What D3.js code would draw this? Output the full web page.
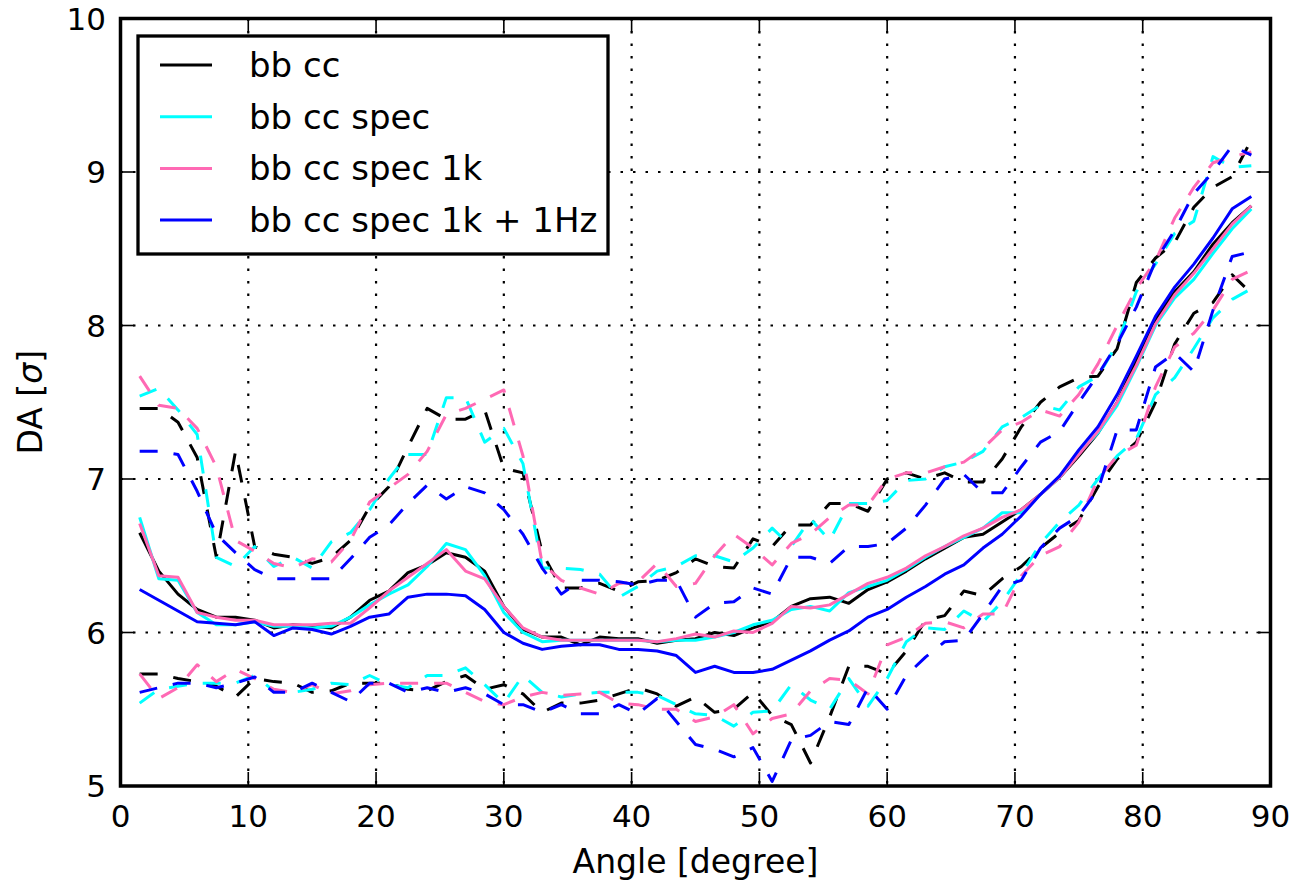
<!DOCTYPE html>
<html>
<head>
<meta charset="utf-8">
<script src="https://cdn.jsdelivr.net/npm/d3@7"></script>
<style>
body { margin: 0; background: #fff; }
text { font-family: "DejaVu Sans", sans-serif; fill: #000; }
</style>
</head>
<body>
<script>
// angles [degree]
var angles = [1.5,3,4.5,6,7.5,9,10.5,12,13.5,15,16.5,18,19.5,21,22.5,24,25.5,27,28.5,30,
    31.5,33,34.5,36,37.5,39,40.5,42,43.5,45,46.5,48,49.5,51,52.5,54,55.5,57,58.5,60,
    61.5,63,64.5,66,67.5,69,70.5,72,73.5,75,76.5,78,79.5,81,82.5,84,85.5,87,88.5];

// bb cc
var bbMean = [6.65,6.40,6.25,6.15,6.10,6.10,6.08,6.03,6.05,6.04, 6.03,6.10,6.21,6.27,6.39,6.44,6.52,6.49,6.40,6.17,
    6.02,5.97,5.97,5.92,5.97,5.96,5.96,5.93,5.95,5.96, 6.00,5.98,6.03,6.07,6.17,6.22,6.23,6.19,6.28,6.33,
    6.40,6.48,6.55,6.62,6.64,6.72,6.80,6.90,7.01,7.15, 7.30,7.50,7.77,8.04,8.22,8.35,8.53,8.67,8.78];
var bbUpper = [7.46,7.46,7.37,7.14,6.49,7.18,6.56,6.51,6.49,6.45, 6.49,6.60,6.82,6.95,7.21,7.46,7.39,7.39,7.45,7.07,
    7.04,6.52,6.29,6.29,6.32,6.27,6.33,6.34,6.39,6.48, 6.43,6.42,6.61,6.56,6.70,6.70,6.84,6.84,6.79,7.00,
    7.04,7.00,7.04,6.98,6.98,7.13,7.34,7.50,7.60,7.66, 7.67,7.85,8.28,8.44,8.54,8.77,8.90,8.97,9.21];
var bbLower = [5.73,5.73,5.70,5.68,5.65,5.58,5.70,5.68,5.67,5.61, 5.62,5.67,5.67,5.67,5.63,5.62,5.68,5.72,5.63,5.66,
    5.60,5.48,5.54,5.54,5.56,5.60,5.64,5.60,5.52,5.58, 5.48,5.50,5.61,5.46,5.40,5.15,5.45,5.78,5.78,5.73,
    5.88,6.08,6.11,6.27,6.24,6.35,6.43,6.55,6.65,6.73, 6.95,7.13,7.24,7.50,7.88,8.08,8.15,8.33,8.21];

// bb cc spec
var specMean = [6.75,6.35,6.34,6.13,6.05,6.05,6.07,6.04,6.04,6.03, 6.04,6.10,6.18,6.25,6.31,6.43,6.58,6.54,6.37,6.13,
    6.00,5.94,5.95,5.95,5.95,5.95,5.95,5.94,5.95,5.95, 5.97,6.00,6.05,6.08,6.15,6.17,6.14,6.26,6.30,6.34,
    6.41,6.49,6.56,6.62,6.68,6.78,6.78,6.90,7.01,7.17, 7.30,7.48,7.73,8.00,8.18,8.30,8.47,8.63,8.76];
var specUpper = [7.54,7.59,7.45,7.29,6.49,6.43,6.56,6.43,6.49,6.42, 6.59,6.65,6.80,7.00,7.16,7.16,7.53,7.53,7.24,7.33,
    7.10,6.42,6.42,6.41,6.38,6.23,6.30,6.40,6.43,6.50, 6.50,6.46,6.55,6.68,6.56,6.74,6.60,6.84,6.84,6.86,
    6.99,7.00,7.08,7.11,7.18,7.34,7.40,7.48,7.45,7.60, 7.67,7.88,8.22,8.40,8.60,8.68,9.10,9.03,9.04];
var specLower = [5.54,5.63,5.65,5.67,5.67,5.67,5.72,5.62,5.61,5.63, 5.67,5.66,5.72,5.66,5.64,5.72,5.72,5.77,5.66,5.54,
    5.72,5.61,5.58,5.60,5.61,5.61,5.61,5.59,5.53,5.47, 5.46,5.39,5.48,5.49,5.66,5.56,5.50,5.70,5.52,5.70,
    5.94,6.03,6.02,6.14,6.07,6.20,6.38,6.58,6.72,6.83, 7.00,7.15,7.26,7.55,7.66,7.85,8.05,8.17,8.24];

// bb cc spec 1k
var spec1kMean = [6.71,6.37,6.36,6.13,6.10,6.08,6.08,6.05,6.05,6.05, 6.06,6.06,6.16,6.27,6.36,6.45,6.54,6.40,6.35,6.17,
    6.03,5.97,5.95,5.95,5.95,5.95,5.95,5.94,5.96,5.99, 5.97,6.01,6.00,6.06,6.17,6.16,6.18,6.25,6.32,6.36,
    6.42,6.50,6.56,6.63,6.68,6.75,6.80,6.90,7.01,7.16, 7.31,7.50,7.74,8.01,8.20,8.34,8.50,8.66,8.78];
var spec1kUpper = [7.67,7.48,7.46,7.33,7.08,6.60,6.53,6.45,6.42,6.48, 6.46,6.60,6.85,6.94,7.03,7.18,7.42,7.46,7.52,7.58,
    7.15,6.45,6.34,6.29,6.25,6.32,6.33,6.45,6.30,6.32, 6.50,6.64,6.55,6.44,6.58,6.64,6.75,6.83,6.83,7.00,
    7.04,7.04,7.08,7.11,7.20,7.32,7.37,7.45,7.41,7.55, 7.75,8.00,8.24,8.42,8.70,8.90,9.06,9.10,9.13];
var spec1kLower = [5.73,5.57,5.64,5.79,5.68,5.76,5.70,5.63,5.61,5.66, 5.60,5.62,5.66,5.67,5.67,5.67,5.67,5.61,5.55,5.53,
    5.58,5.61,5.59,5.60,5.61,5.54,5.53,5.50,5.50,5.42, 5.45,5.53,5.34,5.44,5.47,5.62,5.70,5.69,5.60,5.92,
    5.97,6.06,6.07,6.03,6.12,6.12,6.37,6.50,6.56,6.72, 7.00,7.15,7.22,7.60,7.86,7.95,8.10,8.30,8.36];

// bb cc spec 1k + 1Hz
var hzMean = [6.28,6.21,6.14,6.07,6.06,6.05,6.07,5.98,6.03,6.02, 5.99,6.04,6.10,6.12,6.23,6.25,6.25,6.24,6.15,6.00,
    5.93,5.89,5.91,5.92,5.92,5.89,5.89,5.88,5.85,5.74, 5.78,5.74,5.74,5.76,5.82,5.88,5.95,6.01,6.10,6.15,
    6.23,6.30,6.38,6.44,6.55,6.64,6.76,6.90,7.02,7.19, 7.34,7.55,7.80,8.06,8.25,8.40,8.57,8.76,8.84];
var hzUpper = [7.18,7.18,7.16,6.92,6.64,6.52,6.41,6.35,6.35,6.35, 6.35,6.48,6.62,6.70,6.84,6.96,6.87,6.95,6.91,6.80,
    6.64,6.42,6.25,6.34,6.34,6.33,6.31,6.34,6.34,6.10, 6.19,6.20,6.29,6.25,6.49,6.49,6.45,6.56,6.56,6.58,
    6.68,6.83,7.00,7.03,6.91,6.91,7.08,7.24,7.31,7.50, 7.68,7.88,8.12,8.42,8.62,8.86,9.00,9.17,9.11];
var hzLower = [5.61,5.64,5.67,5.67,5.64,5.67,5.71,5.61,5.61,5.67, 5.61,5.55,5.67,5.67,5.61,5.64,5.61,5.64,5.60,5.53,
    5.53,5.48,5.53,5.47,5.47,5.53,5.47,5.57,5.42,5.27, 5.24,5.19,5.25,5.03,5.30,5.33,5.42,5.40,5.64,5.50,
    5.72,5.84,5.94,5.95,6.12,6.30,6.34,6.55,6.68,6.76, 6.93,7.32,7.32,7.73,7.82,7.70,8.10,8.45,8.48];

var labels = ["bb cc", "bb cc spec", "bb cc spec 1k", "bb cc spec 1k + 1Hz"];
var colors = ["#000000", "#00ffff", "#ff69b4", "#0000ff"];
var xTicks = [0, 10, 20, 30, 40, 50, 60, 70, 80, 90];
var yTicks = [5, 6, 7, 8, 9, 10];

var groups = [
    [bbMean, bbUpper, bbLower],
    [specMean, specUpper, specLower],
    [spec1kMean, spec1kUpper, spec1kLower],
    [hzMean, hzUpper, hzLower]
];

var width = 1293;
var height = 884;
var pLeft = 120.5, pRight = 1270.5, pTop = 18.5, pBottom = 786;

var svg = d3.select("body").append("svg")
    .attr("width", width)
    .attr("height", height);

var x = d3.scaleLinear().domain([0, 90]).range([pLeft, pRight]);
var y = d3.scaleLinear().domain([5, 10]).range([pBottom, pTop]);

svg.append("clipPath").attr("id", "plot")
    .append("rect")
    .attr("x", pLeft).attr("y", pTop)
    .attr("width", pRight - pLeft).attr("height", pBottom - pTop);

// grid
var grid = svg.append("g");
grid.selectAll("line.gx")
    .data(xTicks.slice(1, -1))
    .enter()
    .append("line")
    .attr("class", "gx")
    .attr("x1", function(d) { return x(d); })
    .attr("x2", function(d) { return x(d); })
    .attr("y1", pTop).attr("y2", pBottom);
grid.selectAll("line.gy")
    .data(yTicks.slice(1, -1))
    .enter()
    .append("line")
    .attr("class", "gy")
    .attr("y1", function(d) { return y(d); })
    .attr("y2", function(d) { return y(d); })
    .attr("x1", pLeft).attr("x2", pRight);
grid.selectAll("line")
    .attr("stroke", "#000")
    .attr("stroke-width", 2.2)
    .attr("stroke-dasharray", "2.5,10");

// curves
var line = d3.line()
    .x(function(d, i) { return x(angles[i]); })
    .y(function(d) { return y(d); });

var plot = svg.append("g").attr("clip-path", "url(#plot)");
groups.forEach(function(g, k) {
    g.forEach(function(series, j) {
        plot.append("path")
            .attr("d", line(series))
            .attr("fill", "none")
            .attr("stroke", colors[k])
            .attr("stroke-width", 3)
            .attr("stroke-linejoin", "round")
            .attr("stroke-dasharray", j == 0 ? null : "18,16");
    });
});

// ticks inside on all four sides
var tickLen = 14;
var ticks = svg.append("g").attr("stroke", "#000").attr("stroke-width", 1.6);
xTicks.forEach(function(d) {
    ticks.append("line").attr("x1", x(d)).attr("x2", x(d)).attr("y1", pBottom).attr("y2", pBottom - tickLen);
    ticks.append("line").attr("x1", x(d)).attr("x2", x(d)).attr("y1", pTop).attr("y2", pTop + tickLen);
});
yTicks.forEach(function(d) {
    ticks.append("line").attr("y1", y(d)).attr("y2", y(d)).attr("x1", pLeft).attr("x2", pLeft + tickLen);
    ticks.append("line").attr("y1", y(d)).attr("y2", y(d)).attr("x1", pRight).attr("x2", pRight - tickLen);
});

// frame
svg.append("rect")
    .attr("x", pLeft).attr("y", pTop)
    .attr("width", pRight - pLeft).attr("height", pBottom - pTop)
    .attr("fill", "none")
    .attr("stroke", "#000")
    .attr("stroke-width", 3.5);

// tick labels
svg.selectAll("text.xt")
    .data(xTicks)
    .enter()
    .append("text")
    .attr("class", "xt")
    .attr("x", function(d) { return x(d); })
    .attr("y", 827)
    .attr("text-anchor", "middle")
    .attr("font-size", "31px")
    .text(function(d) { return d; });

svg.selectAll("text.yt")
    .data(yTicks)
    .enter()
    .append("text")
    .attr("class", "yt")
    .attr("x", 106)
    .attr("y", function(d) { return y(d) + 11; })
    .attr("text-anchor", "end")
    .attr("font-size", "31px")
    .text(function(d) { return d; });

// axis labels
svg.append("text")
    .attr("x", (pLeft + pRight) / 2)
    .attr("y", 873)
    .attr("text-anchor", "middle")
    .attr("font-size", "33px")
    .text("Angle [degree]");

var yl = svg.append("text")
    .attr("transform", "translate(42," + ((pTop + pBottom) / 2) + ") rotate(-90)")
    .attr("text-anchor", "middle")
    .attr("font-size", "33px");
yl.append("tspan").text("DA [");
yl.append("tspan").attr("font-style", "italic").text("\u03c3");
yl.append("tspan").text("]");

// legend
var legend = svg.append("g");
legend.append("rect")
    .attr("x", 138).attr("y", 36)
    .attr("width", 470).attr("height", 218)
    .attr("fill", "#fff")
    .attr("stroke", "#000")
    .attr("stroke-width", 3.3);

var rows = legend.selectAll("g.row")
    .data(labels)
    .enter()
    .append("g")
    .attr("class", "row")
    .attr("transform", function(d, i) { return "translate(0," + (65 + i * 51.7) + ")"; });
rows.append("line")
    .attr("x1", 160).attr("x2", 212)
    .attr("y1", 0).attr("y2", 0)
    .attr("stroke", function(d, i) { return colors[i]; })
    .attr("stroke-width", 3);
rows.append("text")
    .attr("x", 249)
    .attr("y", 12)
    .attr("font-size", "34px")
    .text(function(d) { return d; });
</script>
</body>
</html>
